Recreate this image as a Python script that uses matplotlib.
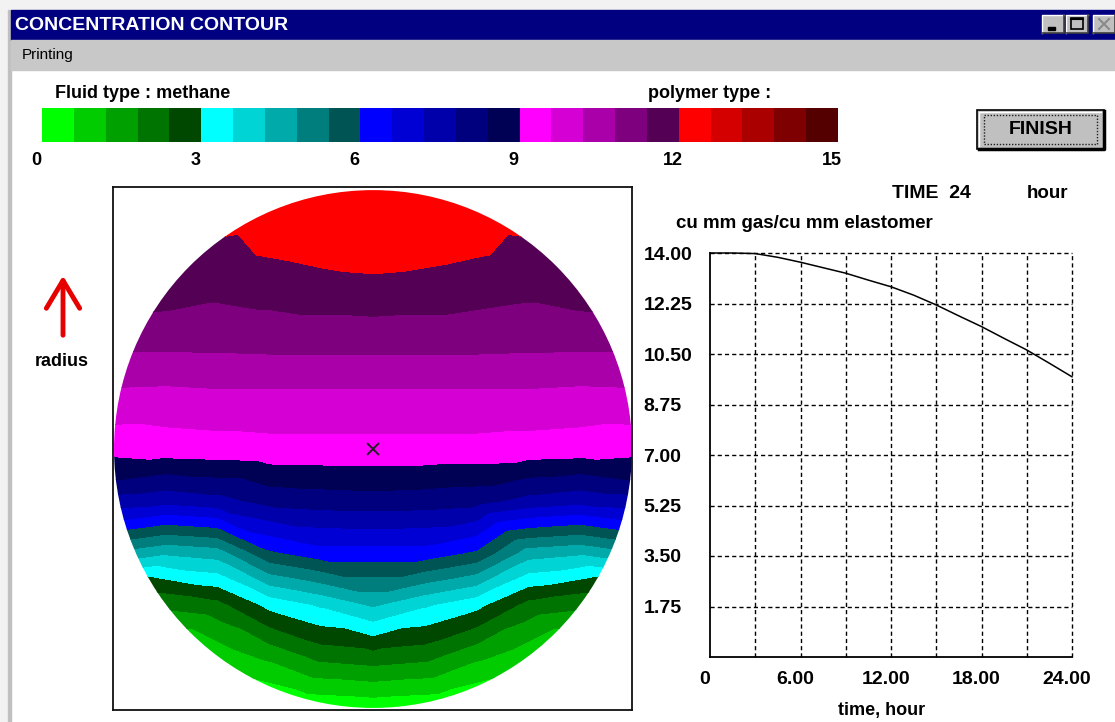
import numpy as np
import matplotlib
matplotlib.use("Agg")
import matplotlib.pyplot as plt
import matplotlib.tri as mtri
from matplotlib.colors import ListedColormap, BoundaryNorm
from matplotlib.cm import ScalarMappable
from matplotlib.patches import Rectangle, Circle
from matplotlib.transforms import ScaledTranslation

plt.rcParams['font.family'] = ['Liberation Sans', 'DejaVu Sans']

W, H = 1115, 722

# ---- data ----
band_colors = ['#00ff00', '#00cc00', '#00a000', '#007400', '#004800',
               '#00ffff', '#00d4d4', '#00aaaa', '#007e7e', '#005454',
               '#0000ff', '#0000d4', '#0000aa', '#00007e', '#000054',
               '#ff00ff', '#d400d4', '#aa00aa', '#7e007e', '#540054',
               '#ff0000', '#d40000', '#aa0000', '#7e0000', '#540000']
scale_ticks = [0, 3, 6, 9, 12, 15]

# concentration samples in the cross-section, x across, y up (unit radius)
grid_x = [-0.8, -0.6, -0.4, -0.2, 0.0, 0.2, 0.4, 0.6, 0.8]
grid_y = [0.8, 0.6, 0.4, 0.2, 0.0, -0.2, -0.4, -0.6, -0.8]
conc_grid = [
    [None, None, 12.17, 12.3, 12.4, 12.3, 12.17, None, None],
    [None, 11.5, 11.6, 11.7, 11.75, 11.7, 11.6, 11.5, None],
    [10.9, 10.92, 10.95, 10.95, 10.95, 10.95, 10.95, 10.92, 10.9],
    [10.0, 10.05, 10.05, 10.05, 10.05, 10.05, 10.05, 10.05, 10.0],
    [9.3, 9.35, 9.4, 9.4, 9.4, 9.4, 9.4, 9.35, 9.3],
    [7.4, 7.6, 8.0, 8.1, 8.15, 8.1, 8.0, 7.6, 7.4],
    [4.3, 4.5, 5.9, 6.35, 6.35, 6.35, 5.9, 4.5, 4.3],
    [None, 2.2, 3.2, 3.7, 4.3, 3.7, 3.2, 2.2, None],
    [None, None, 1.35, 2.0, 2.15, 2.0, 1.35, None, None],
]
# values on the outer surface, angle in degrees from the right, anticlockwise
rim_angle = [0, 15, 30, 45, 60, 75, 90, 105, 120, 135, 150, 165, 180,
             187.5, 195, 202.5, 210, 225, 240, 255, 270, 285, 300, 315,
             330, 337.5, 345, 352.5]
rim_conc = [9.2, 10.3, 11.35, 11.8, 12.1, 12.35, 12.55, 12.35, 12.1, 11.8,
            11.35, 10.3, 9.2, 8.3, 6.8, 4.8, 2.8, 1.0, 0.6, 0.3, 0.1, 0.3,
            0.6, 1.0, 2.8, 4.8, 6.8, 8.3]

time_h = [0, 1.5, 3, 4.5, 6, 7.5, 9, 10.5, 12, 13.5, 15, 16.5, 18, 19.5, 21, 22.5, 24]
uptake = [14.0, 14.0, 13.98, 13.85, 13.68, 13.49, 13.30, 13.06, 12.83, 12.54,
          12.20, 11.82, 11.45, 11.04, 10.64, 10.18, 9.71]
y_ticks = [1.75, 3.5, 5.25, 7.0, 8.75, 10.5, 12.25, 14.0]
x_ticks = [0, 6, 12, 18, 24]
x_labels = ['0', '6.00', '12.00', '18.00', '24.00']
x_grid = [3, 6, 9, 12, 15, 18, 21, 24]


def box(x0, y0, x1, y1):
    return [x0 / W, 1 - y1 / H, (x1 - x0) / W, (y1 - y0) / H]


def shift(labels, dx, dy, fig):
    for lb in labels:
        lb.set_transform(lb.get_transform() + ScaledTranslation(dx / 100, dy / 100, fig.dpi_scale_trans))


fig = plt.figure(figsize=(W / 100, H / 100), dpi=100, facecolor='white')

# window frame drawn in screen pixels
bg = fig.add_axes([0, 0, 1, 1])
bg.set_xlim(0, W)
bg.set_ylim(H, 0)
bg.axis('off')
bg.add_patch(Rectangle((0, 0), W, 10, color='#f2f2f2'))
bg.add_patch(Rectangle((0, 0), 8, H, color='#f2f2f2'))
bg.add_patch(Rectangle((8, 10), 3, H - 10, color='#c0c0c0'))
bg.add_patch(Rectangle((11, 10), W - 11, 30, color='#000080'))
bg.add_patch(Rectangle((11, 40), W - 11, 30, color='#c8c8c8'))
bg.text(15, 25, 'CONCENTRATION CONTOUR', color='white', fontsize=14,
        fontweight='bold', va='center', ha='left')
bg.text(22, 55, 'Printing', fontsize=11, va='center', ha='left')

for i, x0 in enumerate([1042, 1066, 1093]):
    bg.add_patch(Rectangle((x0, 15), 22, 18, fc='#c0c0c0', ec='none'))
    bg.plot([x0, x0, x0 + 22], [33, 15, 15], color='white', lw=1)
    bg.plot([x0, x0 + 22, x0 + 22], [33, 33, 15], color='#404040', lw=1.2)
    if i == 0:
        bg.add_patch(Rectangle((x0 + 6, 27), 7, 2.5, color='black'))
    elif i == 1:
        bg.add_patch(Rectangle((x0 + 5, 18), 12, 11, fill=False, ec='black', lw=1.2))
        bg.plot([x0 + 5, x0 + 17], [18.6, 18.6], color='black', lw=1.5)
    else:
        bg.plot([x0 + 6, x0 + 16], [19, 29], color='#8a8a8a', lw=1.5)
        bg.plot([x0 + 6, x0 + 16], [29, 19], color='#8a8a8a', lw=1.5)

bg.text(55, 94, 'Fluid type : methane', fontsize=13, fontweight='bold', va='center')
bg.text(648, 94, 'polymer type :', fontsize=13, fontweight='bold', va='center')

# FINISH button
bg.add_patch(Rectangle((977, 110), 127, 39, fc='#c0c0c0', ec='black', lw=1.2))
bg.plot([979, 1104, 1104], [149, 149, 111], color='black', lw=2.5)
bg.plot([979, 979, 1101], [146, 112, 112], color='white', lw=1)
bg.add_patch(Rectangle((984, 115), 113, 29, fill=False, ec='#202020', lw=1,
                       ls=(0, (1, 1.2))))
bg.text(1041, 130, 'FINISH', fontsize=14, fontweight='bold', ha='center', va='center')

# arrow + radius label
bg.annotate('', xy=(63, 273), xytext=(63, 338),
            arrowprops=dict(arrowstyle='->,head_length=2.0,head_width=1.2',
                            color='#e60000', lw=3.5))
bg.text(62, 362, 'radius', fontsize=13, fontweight='bold', ha='center', va='center')

bg.text(892, 194, 'TIME  24', fontsize=14, fontweight='bold', va='center')
bg.text(1027, 194, 'hour', fontsize=13.5, fontweight='bold', va='center')
bg.text(676, 223, 'cu mm gas/cu mm elastomer', fontsize=13.5, fontweight='bold', va='center')
bg.text(882, 710, 'time, hour', fontsize=13, fontweight='bold', ha='center', va='center')

# colour scale
cmap = ListedColormap(band_colors)
levels = np.linspace(scale_ticks[0], scale_ticks[-1], len(band_colors) + 1)
norm = BoundaryNorm(levels, cmap.N)

cax = fig.add_axes(box(42, 108, 838, 142))
cb = fig.colorbar(ScalarMappable(norm=norm, cmap=cmap), cax=cax,
                  orientation='horizontal', ticks=scale_ticks)
cb.outline.set_visible(False)
cb.minorticks_off()
cax.tick_params(which='both', length=0, pad=7, labelsize=13)
for t in cax.get_xticklabels():
    t.set_fontweight('bold')
shift(cax.get_xticklabels(), -6, 0, fig)

# cross-section contour
ax = fig.add_axes(box(113, 187, 632, 710))
ax.set_xlim(-1.004, 1.0)
ax.set_ylim(-1.008, 1.012)
ax.set_xticks([])
ax.set_yticks([])
for s in ax.spines.values():
    s.set_linewidth(1.3)
    s.set_color('#101010')

px, py, pz = [], [], []
for yv, row in zip(grid_y, conc_grid):
    for xv, v in zip(grid_x, row):
        if v is not None:
            px.append(xv)
            py.append(yv)
            pz.append(v)
ang = np.radians(rim_angle)
px += list(1.01 * np.cos(ang))
py += list(1.01 * np.sin(ang))
pz += rim_conc

tri = mtri.Triangulation(px, py)
cs = ax.tricontourf(tri, pz, levels=levels, cmap=cmap, norm=norm)
cs.set_clip_path(Circle((0, 0), 1.0, transform=ax.transData))
ax.plot(0, 0, marker='x', ms=9, mew=1.4, color='#202020')

# uptake vs time
ax2 = fig.add_axes(box(710, 253, 1072, 657))
ax2.set_xlim(0, 24)
ax2.set_ylim(0, 14)
ax2.spines['top'].set_visible(False)
ax2.spines['right'].set_visible(False)
ax2.spines['left'].set_linewidth(1.3)
ax2.spines['bottom'].set_linewidth(1.3)
ax2.set_facecolor('none')
ax2.vlines(x_grid, 0, 14, colors='black', linestyles=(0, (3, 2.2)), lw=1.0, clip_on=False)
ax2.hlines(y_ticks, 0, 24, colors='black', linestyles=(0, (3, 2.2)), lw=1.0, clip_on=False)
ax2.plot(time_h, uptake, color='black', lw=1.1, clip_on=False)

ax2.set_yticks(y_ticks)
ax2.set_yticklabels(['%.2f' % v for v in y_ticks])
ax2.set_xticks(x_ticks)
ax2.set_xticklabels(x_labels)
ax2.tick_params(axis='y', length=0, pad=48, labelsize=14)
ax2.tick_params(axis='x', length=0, pad=10, labelsize=14)
for t in ax2.get_yticklabels():
    t.set_fontweight('bold')
    t.set_horizontalalignment('left')
for t in ax2.get_xticklabels():
    t.set_fontweight('bold')
shift(ax2.get_xticklabels(), -5, 0, fig)

fig.savefig('out.png', dpi=100, facecolor='white')
